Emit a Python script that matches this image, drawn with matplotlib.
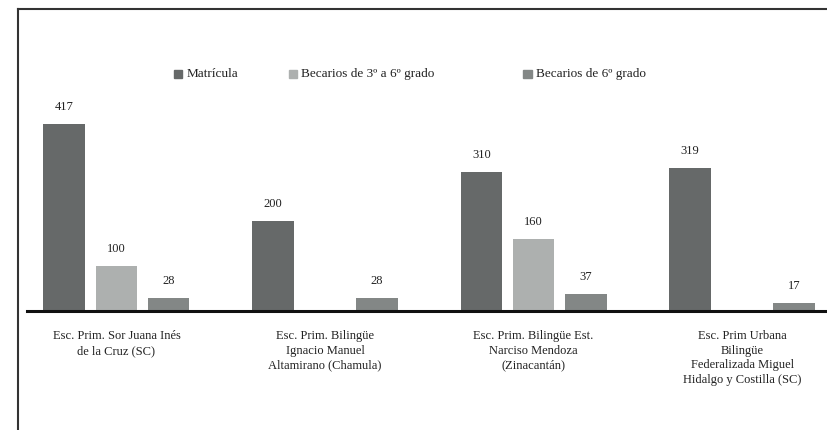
import matplotlib
matplotlib.use("Agg")
import matplotlib.pyplot as plt
from matplotlib.lines import Line2D
import numpy as np

escuelas = [
    "Esc. Prim. Sor Juana Inés\nde la Cruz (SC)",
    "Esc. Prim. Bilingüe\nIgnacio Manuel\nAltamirano (Chamula)",
    "Esc. Prim. Bilingüe Est.\nNarciso Mendoza\n(Zinacantán)",
    "Esc. Prim Urbana\nBilingüe\nFederalizada Miguel\nHidalgo y Costilla (SC)",
]
matricula = [417, 200, 310, 319]
becarios_3a6 = [100, None, 160, None]
becarios_6 = [28, 28, 37, 17]

series = [
    ("Matrícula", matricula, "#666969"),
    ("Becarios de 3º a 6º grado", becarios_3a6, "#adb0af"),
    ("Becarios de 6º grado", becarios_6, "#838786"),
]

W, H = 828, 430
fig = plt.figure(figsize=(W / 100, H / 100), dpi=100)
plt.rcParams["font.family"] = ["Liberation Serif", "DejaVu Serif"]

# axes: baseline at y=311 px, spans x=27..828 px
ax_bottom = 1 - 311 / H
ax_top = 1 - 100 / H
ax = fig.add_axes([27 / W, ax_bottom, 1 - 27 / W, ax_top - ax_bottom])

x = np.arange(len(escuelas))
width = 0.2
step = 0.25
for i, (name, vals, color) in enumerate(series):
    xs = [xi + (i - 1) * step for xi, v in zip(x, vals) if v is not None]
    vs = [v for v in vals if v is not None]
    ax.bar(xs, vs, width=width, color=color, label=name, zorder=2)
    for xx, v in zip(xs, vs):
        ax.annotate(str(v), (xx, v), xytext=(0, 8), textcoords="offset points",
                    ha="center", va="bottom", fontsize=9, color="#222222")

ax.set_xlim(-0.429, 3.412)
ax.set_ylim(0, 470.6)
for s in ["top", "right", "left"]:
    ax.spines[s].set_visible(False)
ax.spines["bottom"].set_linewidth(2.2)
ax.spines["bottom"].set_color("#111111")
ax.spines["bottom"].set_zorder(3)
ax.set_yticks([])
ax.set_xticks(x)
ax.set_xticklabels(escuelas, fontsize=9, color="#222222", linespacing=1.27)
ax.tick_params(axis="x", length=0, pad=14)
ax.patch.set_visible(False)

# legend entries placed along one row
leg_y = 1 - 74 / H
leg_items = [(174, 187), (289, 301), (523, 536)]
for (mx, tx), (name, _, color) in zip(leg_items, series):
    fig.patches.append(plt.Rectangle((mx / W, leg_y - 4 / H), 8.5 / W, 8.5 / H,
                                     transform=fig.transFigure, color=color))
    fig.text(tx / W, leg_y, name, fontsize=9.5, va="center", ha="left", color="#222222")

# outer frame: left and top rules
fig.add_artist(Line2D([18.5 / W, 18.5 / W], [0, 1 - 9 / H], color="#333333", lw=1.5))
fig.add_artist(Line2D([18.5 / W, 1], [1 - 9 / H, 1 - 9 / H], color="#333333", lw=1.5))

fig.savefig("out.png", dpi=100)
